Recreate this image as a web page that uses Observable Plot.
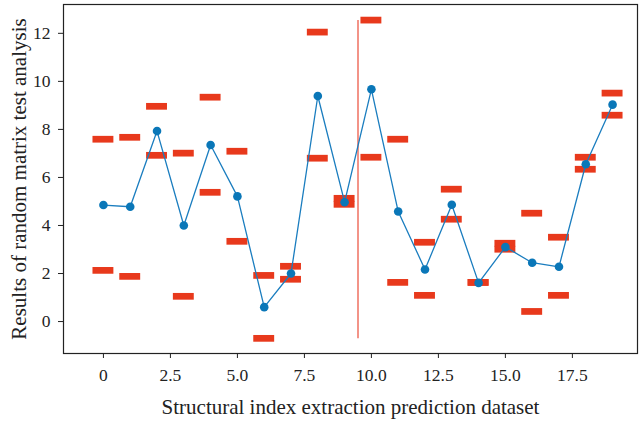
<!DOCTYPE html>
<html>
<head>
<meta charset="utf-8">
<script src="https://cdn.jsdelivr.net/npm/d3@7"></script>
<script src="https://cdn.jsdelivr.net/npm/@observablehq/plot@0.6"></script>
<style>
  html, body { margin: 0; padding: 0; background: #fff; }
  svg { font-family: "Liberation Serif", "DejaVu Serif", serif; }
</style>
</head>
<body>
<div id="chart"></div>
<script>
const xs = d3.range(20);
const lineValues = [4.85, 4.78, 7.93, 4.0, 7.35, 5.21, 0.6, 2.0, 9.39, 4.97, 9.67, 4.58, 2.17, 4.86, 1.61, 3.10, 2.45, 2.28, 6.55, 9.03];
const upperValues = [7.57, 7.65, 8.94, 6.99, 9.32, 7.07, 1.90, 2.28, 12.03, 5.11, 12.53, 7.57, 3.28, 5.49, 1.61, 3.24, 4.49, 3.49, 6.82, 9.49];
const lowerValues = [2.11, 1.86, 6.90, 1.03, 5.36, 3.32, -0.72, 1.74, 6.78, 4.86, 6.82, 1.61, 1.07, 4.24, 1.61, 2.99, 0.40, 1.07, 6.32, 8.57];
const xTicks = [0, 2.5, 5, 7.5, 10, 12.5, 15, 17.5];
const yTicks = [0, 2, 4, 6, 8, 10, 12];
const splitX = 9.5;
const splitRange = [-0.72, 12.53];
const xLabel = "Structural index extraction prediction dataset";
const yLabel = "Results of random matrix test analysis";

const points = xs.map((x, i) => ({x, y: lineValues[i]}));
const bars = xs.flatMap((x, i) => [
  {x, v: upperValues[i]},
  {x, v: lowerValues[i]}
]);

const chart = Plot.plot({
  width: 642,
  height: 421,
  marginLeft: 63,
  marginRight: 5,
  marginTop: 4,
  marginBottom: 68,
  style: {fontFamily: "Liberation Serif, DejaVu Serif, serif", fontSize: "16px", color: "#222", background: "#fff"},
  x: {domain: [-1.49, 19.93]},
  y: {domain: [-1.33, 13.2]},
  marks: [
    Plot.frame({stroke: "#222", strokeWidth: 1.2}),
    Plot.rect(bars, {
      x1: d => d.x - 0.39, x2: d => d.x + 0.39,
      y1: d => d.v - 0.14, y2: d => d.v + 0.14,
      fill: "#e8391c"
    }),
    Plot.ruleX([splitX], {y1: splitRange[0], y2: splitRange[1], stroke: "#ef7060", strokeWidth: 1.5}),
    Plot.line(points, {x: "x", y: "y", stroke: "#1a7dbf", strokeWidth: 1.3}),
    Plot.dot(points, {x: "x", y: "y", r: 4.3, fill: "#0a77b8"}),
    Plot.axisX({
      ticks: xTicks,
      tickFormat: d => d === 0 ? "0" : d.toFixed(1),
      tickSize: 5,
      tickPadding: 10,
      fontSize: 17.5,
      label: null
    }),
    Plot.axisX({
      ticks: [],
      tickSize: 0,
      fontSize: 21,
      label: xLabel,
      labelAnchor: "center",
      labelArrow: "none",
      labelOffset: 60
    }),
    Plot.axisY({
      ticks: yTicks,
      tickSize: 5,
      tickPadding: 8,
      fontSize: 17.5,
      label: null
    }),
    Plot.axisY({
      ticks: [],
      tickSize: 0,
      fontSize: 21,
      label: yLabel,
      labelAnchor: "center",
      labelArrow: "none",
      labelOffset: 52
    })
  ]
});
document.getElementById("chart").appendChild(chart);
</script>
</body>
</html>
